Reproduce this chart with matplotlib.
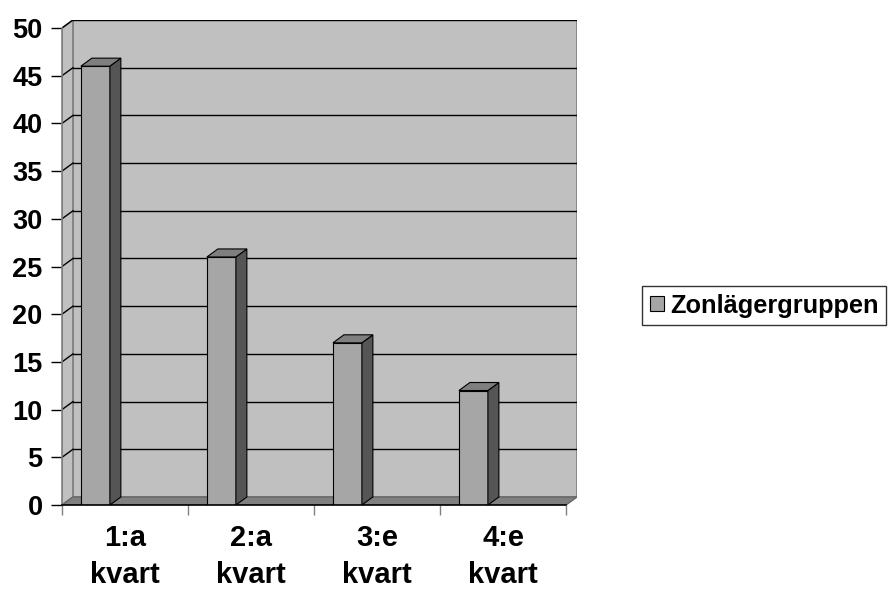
import numpy as np
import matplotlib.pyplot as plt
from matplotlib.patches import Polygon

plt.rcParams['font.family'] = ['Liberation Sans', 'DejaVu Sans']

categories = ["1:a\nkvart", "2:a\nkvart", "3:e\nkvart", "4:e\nkvart"]
values = [46, 26, 17, 12]
series_name = "Zonlägergruppen"
yticks = list(range(0, 51, 5))

# depth of the fake 3d box, in data units
DX = 0.087
DY = 0.84
BAR_START = 0.15
BAR_W = 0.23

WALL = "#c0c0c0"
FLOOR = "#808080"
FRONT = "#a6a6a6"
SIDE = "#555555"
TOP = "#7f7f7f"


def draw_chart():
    fig = plt.figure(figsize=(8.88, 5.91), dpi=100)
    W, H = 888, 591
    ax = fig.add_axes([62 / W, (H - 505) / H, (577 - 62) / W, (505 - 20) / H])
    n = len(values)
    ymax = 50
    ax.set_xlim(0, n + DX)
    ax.set_ylim(0, ymax + DY)
    ax.patch.set_visible(False)
    for s in ax.spines.values():
        s.set_visible(False)

    # back wall
    ax.add_patch(Polygon([(DX, DY), (n + DX, DY), (n + DX, ymax + DY), (DX, ymax + DY)],
                         closed=True, facecolor=WALL, edgecolor="#808080", lw=1.2, zorder=1))
    # left wall
    ax.add_patch(Polygon([(0, 0), (DX, DY), (DX, ymax + DY), (0, ymax)],
                         closed=True, facecolor=WALL, edgecolor="#808080", lw=1.2, zorder=1))
    # gridlines
    for t in yticks[1:]:
        ax.plot([DX, n + DX], [t + DY, t + DY], color="black", lw=1, zorder=2)
        ax.plot([0, DX], [t, t + DY], color="black", lw=1, zorder=2)
    # floor
    ax.add_patch(Polygon([(0, 0), (n, 0), (n + DX, DY), (DX, DY)],
                         closed=True, facecolor=FLOOR, edgecolor="#666666", lw=1, zorder=3))
    ax.plot([0, n], [0, 0], color="black", lw=1.2, zorder=6, clip_on=False)
    ax.plot([0, 0], [0, ymax], color="#808080", lw=1.2, zorder=4, clip_on=False)

    # bars
    xs = np.arange(n) + BAR_START
    ax.bar(xs, values, width=BAR_W, align="edge", color=FRONT,
           edgecolor="black", lw=0.8, zorder=5)
    for x, v in zip(xs, values):
        side = [(x + BAR_W, 0), (x + BAR_W + DX, DY), (x + BAR_W + DX, v + DY), (x + BAR_W, v)]
        top = [(x, v), (x + BAR_W, v), (x + BAR_W + DX, v + DY), (x + DX, v + DY)]
        ax.add_patch(Polygon(side, closed=True, facecolor=SIDE, edgecolor="black", lw=0.8, zorder=5))
        ax.add_patch(Polygon(top, closed=True, facecolor=TOP, edgecolor="black", lw=0.8, zorder=5))

    # axes ticks
    ax.set_yticks(yticks)
    ax.set_yticklabels([str(t) for t in yticks], fontsize=19.5, fontweight="bold")
    ax.tick_params(axis="y", length=8, width=1, color="black", pad=6)
    ax.set_xticks(range(n + 1))
    ax.set_xticklabels([""] * (n + 1))
    ax.tick_params(axis="x", which="major", length=7, width=1, color="#808080")
    ax.set_xticks(np.arange(n) + 0.5, minor=True)
    ax.set_xticklabels(categories, minor=True, fontsize=21, fontweight="bold", linespacing=1.4)
    ax.tick_params(axis="x", which="minor", length=0, pad=14)

    # legend
    handle = plt.Rectangle((0, 0), 1, 1, facecolor=FRONT, edgecolor="black", lw=0.8)
    leg = fig.legend([handle], [series_name], loc="center left",
                     bbox_to_anchor=(642 / W, 1 - 305.5 / H),
                     prop={"weight": "bold", "size": 18.3}, frameon=True, fancybox=False,
                     handlelength=0.55, handleheight=0.55, handletextpad=0.25,
                     borderpad=0.3, borderaxespad=0)
    leg.get_frame().set_edgecolor("black")
    leg.get_frame().set_linewidth(1)

    fig.savefig("out.png", dpi=100)


def main():
    draw_chart()


if __name__ == '__main__':
    main()
